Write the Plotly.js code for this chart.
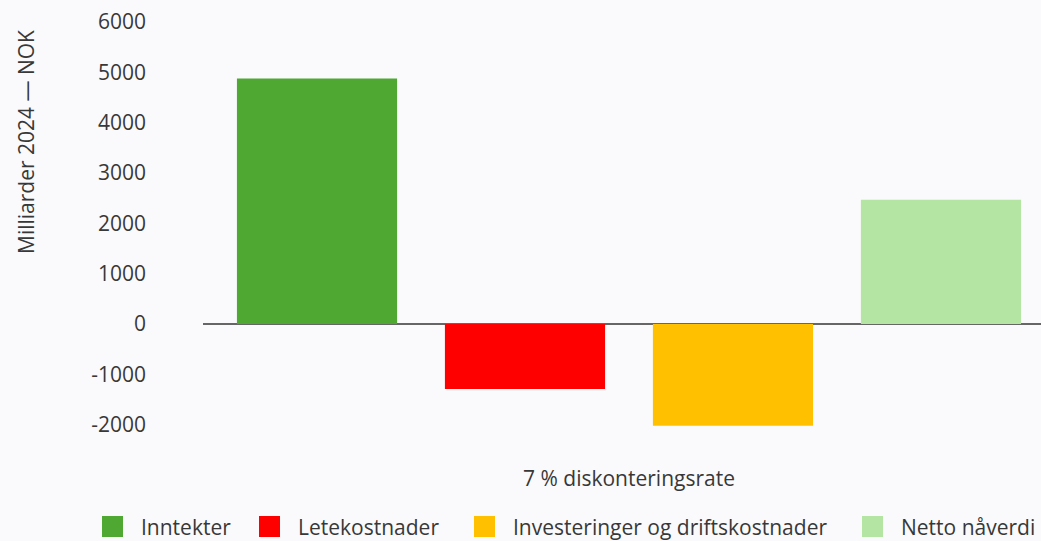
<!DOCTYPE html>
<html>
<head>
<meta charset="utf-8">
<script src="https://cdn.plot.ly/plotly-3.0.1.min.js"></script>
<style>html,body{margin:0;padding:0;background:#fafafc;}</style>
</head>
<body>
<div id="chart" style="width:1041px;height:541px;"></div>
<script>
const categories = ["7 % diskonteringsrate"];
const seriesNames = ["Inntekter", "Letekostnader", "Investeringer og driftskostnader", "Netto nåverdi"];
const inntekter = [4880];
const letekostnader = [-1290];
const investeringer = [-2020];
const nettoNaaverdi = [2470];
const seriesColors = ["#4fa832", "#ff0000", "#ffc000", "#b5e5a3"];
const yTickVals = [-2000, -1000, 0, 1000, 2000, 3000, 4000, 5000, 6000];
const yTitle = "Milliarder 2024 — NOK";

// layout constants (pixels)
const W = 1041, H = 541;
const M = {l: 203, r: 0, t: 22, b: 91};
const plotW = W - M.l - M.r, plotH = H - M.t - M.b;
const px2x = p => (p - M.l) / plotW;
const py2y = p => (H - M.b - p) / plotH;
const legendSymbolLeft = [102, 259, 474, 862];
const legendSymbolSize = 21;
const legendCenterY = 526.5;
const legendTextGap = 16;

const values = [inntekter, letekostnader, investeringer, nettoNaaverdi];
const traces = values.map((v, i) => ({
  type: "bar",
  name: seriesNames[i],
  x: categories,
  y: v,
  marker: {color: seriesColors[i], line: {width: 0}},
  hoverinfo: "y+name",
  showlegend: false
}));

const font = "'Open Sans', 'Noto Sans', sans-serif";
const textColor = "#383838";

const shapes = [];
const annotations = [];
seriesNames.forEach((name, i) => {
  const x0 = legendSymbolLeft[i];
  shapes.push({
    type: "rect", xref: "paper", yref: "paper",
    x0: px2x(x0), x1: px2x(x0 + legendSymbolSize),
    y0: py2y(legendCenterY + legendSymbolSize / 2), y1: py2y(legendCenterY - legendSymbolSize / 2),
    fillcolor: seriesColors[i], line: {width: 0}
  });
  annotations.push({
    xref: "paper", yref: "paper",
    x: px2x(x0 + legendSymbolSize + legendTextGap), y: py2y(legendCenterY),
    xanchor: "left", yanchor: "middle",
    text: name, showarrow: false,
    font: {size: 21, color: textColor, family: font}
  });
});
annotations.push({
  xref: "paper", yref: "paper",
  x: px2x(26), y: py2y(142),
  xanchor: "center", yanchor: "middle",
  textangle: -90,
  text: yTitle, showarrow: false,
  font: {size: 21, color: textColor, family: font}
});

const layout = {
  width: W,
  height: H,
  paper_bgcolor: "#fafafc",
  plot_bgcolor: "#fafafc",
  font: {family: font, color: textColor, size: 21},
  margin: {l: M.l, r: M.r, t: M.t, b: M.b, pad: 0},
  barmode: "group",
  bargap: 0.0235,
  bargroupgap: 0.23,
  showlegend: false,
  xaxis: {
    type: "category",
    range: [-0.5, 0.4836],
    showgrid: false,
    showline: false,
    zeroline: false,
    ticks: "",
    ticklabelstandoff: 14,
    tickfont: {size: 21, color: textColor}
  },
  yaxis: {
    range: [-2500, 6000],
    tickvals: yTickVals,
    ticktext: yTickVals.map(String),
    showgrid: false,
    zeroline: true,
    zerolinecolor: "#666666",
    zerolinewidth: 1.5,
    showline: false,
    ticks: "",
    ticklabelstandoff: 56,
    tickfont: {size: 21, color: textColor}
  },
  shapes: shapes,
  annotations: annotations
};

Plotly.newPlot("chart", traces, layout, {displayModeBar: false, staticPlot: true});
</script>
</body>
</html>
